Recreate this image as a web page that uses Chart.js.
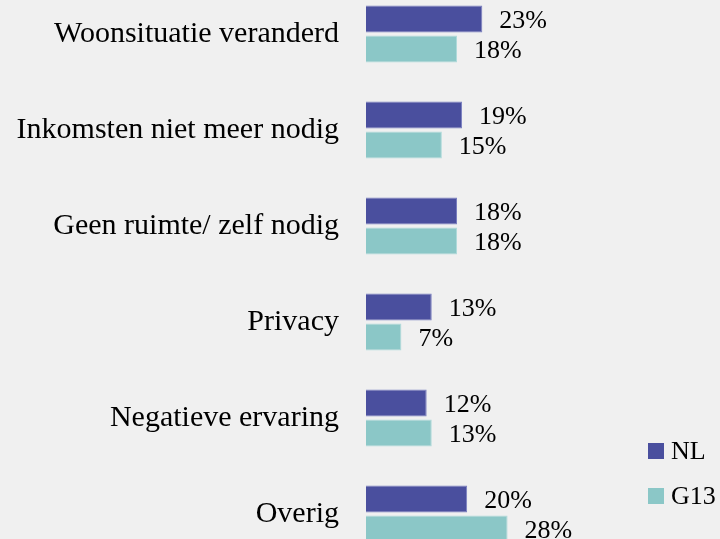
<!DOCTYPE html>
<html>
<head>
<meta charset="utf-8">
<script src="https://cdn.jsdelivr.net/npm/chart.js@4"></script>
<style>
    html, body { margin: 0; padding: 0; background: #f0f0f0; overflow: hidden; }
    body { width: 720px; height: 539px; position: relative; }
    #chart { position: absolute; left: 0; top: -14px; }
    .legend { position: absolute; left: 648px; font-family: "Liberation Serif", serif; font-size: 26px; color: #000; display: flex; align-items: center; }
    .legend span.box { display: inline-block; width: 16px; height: 16px; margin-right: 7px; }
</style>
</head>
<body>
<canvas id="chart" width="720" height="576"></canvas>
<div class="legend" style="top:436px"><span class="box" style="background:#4a4f9e"></span>NL</div>
<div class="legend" style="top:481px"><span class="box" style="background:#8bc7c7"></span>G13</div>
<script>
const categories = ['Woonsituatie veranderd', 'Inkomsten niet meer nodig', 'Geen ruimte/ zelf nodig',
    'Privacy', 'Negatieve ervaring', 'Overig']
const nlValues = [23, 19, 18, 13, 12, 20]
const g13Values = [18, 15, 18, 7, 13, 28]

// percent labels at the end of every bar
const valueLabels = {
    id: 'valueLabels',
    afterDatasetsDraw(chart) {
        const ctx = chart.ctx
        ctx.save()
        ctx.font = '26px "Liberation Serif", serif'
        ctx.fillStyle = '#000'
        ctx.textBaseline = 'middle'
        ctx.textAlign = 'left'
        chart.data.datasets.forEach((ds, i) => {
            chart.getDatasetMeta(i).data.forEach((bar, j) => {
                ctx.fillText(ds.data[j] + '%', bar.x + 17, bar.y + 2)
            })
        })
        ctx.restore()
    }
}

new Chart(document.getElementById('chart'), {
    type: 'bar',
    data: {
        labels: categories,
        datasets: [{
            label: 'NL',
            data: nlValues,
            backgroundColor: '#4a4f9e',
            borderColor: '#7a7fc0',
            borderWidth: 1,
            categoryPercentage: 0.625,
            barPercentage: 0.9
        }, {
            label: 'G13',
            data: g13Values,
            backgroundColor: '#8bc7c7',
            borderColor: '#b0dada',
            borderWidth: 1,
            categoryPercentage: 0.625,
            barPercentage: 0.9
        }]
    },
    options: {
        indexAxis: 'y',
        responsive: false,
        animation: false,
        layout: { padding: 0, autoPadding: false },
        plugins: {
            legend: { display: false },
            tooltip: { enabled: false }
        },
        scales: {
            x: {
                display: false,
                min: 0,
                max: 70
            },
            y: {
                border: { display: false },
                grid: { display: false, drawTicks: false },
                ticks: {
                    color: '#000',
                    padding: 27,
                    font: { family: '"Liberation Serif", serif', size: 30 }
                },
                afterFit(axis) {
                    axis.width = 366
                    axis.paddingTop = 0
                    axis.paddingBottom = 0
                }
            }
        }
    },
    plugins: [valueLabels]
})
</script>
</body>
</html>
